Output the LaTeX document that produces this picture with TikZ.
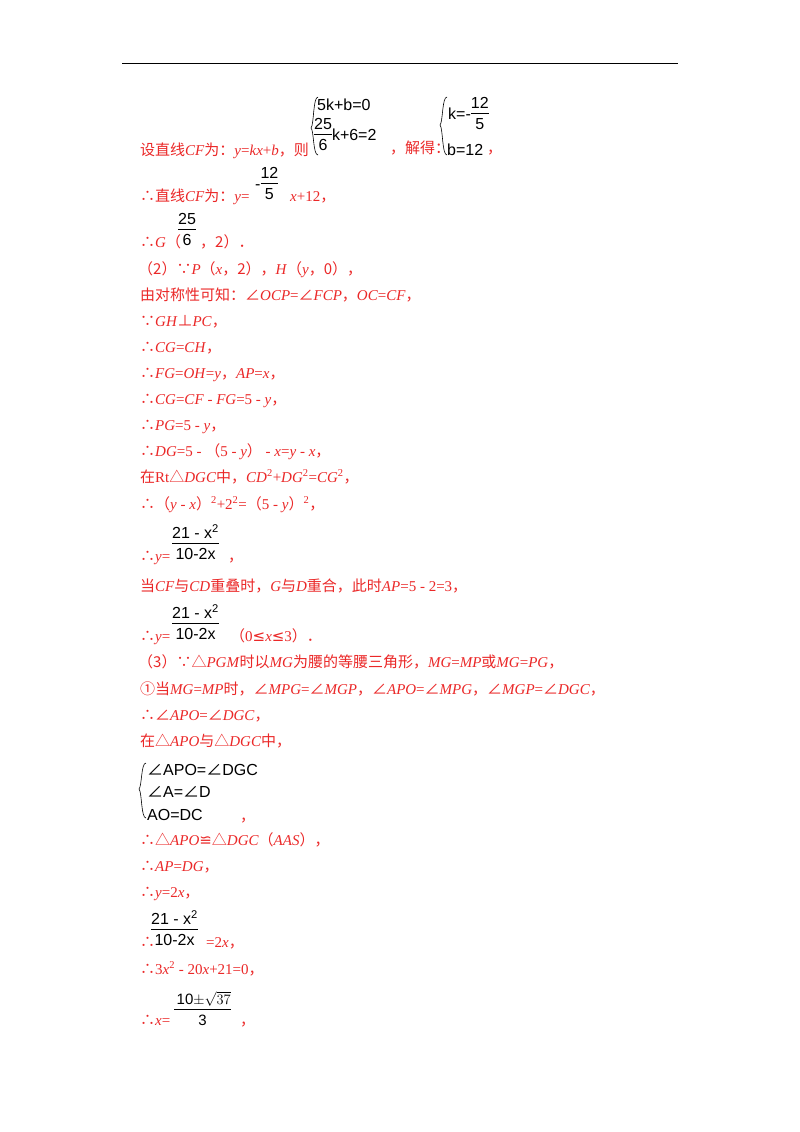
\documentclass[tikz,border=0pt]{standalone}
\usepackage{fontspec}
\usepackage{amsmath}
\setmainfont{Liberation Serif}
\newfontfamily\cjk{Noto Sans CJK SC}
\newfontfamily\dvs{DejaVu Sans}
\newfontfamily\arl{Liberation Sans}
\newcommand{\C}[1]{{\cjk #1}}
\newcommand{\V}[1]{\textit{#1}}
\definecolor{rd}{RGB}{235,40,40}
\tikzset{ln/.style={anchor=base west,inner sep=0pt,text=rd,font=\fontsize{15}{17}\selectfont},
 bk/.style={anchor=base west,inner sep=0pt,text=black,font=\arl\fontsize{16}{18}\selectfont},
 br/.style={draw=black,line width=0.6pt}}
\newcommand{\fr}[2]{\begin{tabular}{@{}c@{}}#1\\[-1pt]\hline\rule{0pt}{16pt}#2\end{tabular}}
\begin{document}
\begin{tikzpicture}[x=1pt,y=-1pt]
\useasboundingbox (0,0) rectangle (800,1132);
\fill[white] (0,0) rectangle (800,1132);
\draw[line width=0.8pt] (122,63) -- (678,63);
% line 1
\node[ln] (l1) at (140,155) {\C{设直线}\V{CF}\C{为：}\V{y}=\V{kx}+\V{b}\C{，则}};
\draw[br] (318,97) .. controls (313,97) and (314,125) .. (311,128) .. controls (314,131) and (313,155) .. (318,155);
\node[bk] (s1) at (317,110) {5k+b=0};
\node[bk,anchor=west] (s2) at (314,136) {\fr{25}{6}k+6=2};
\node[ln] (l1b) at (390,153) {\C{，解得：}};
\draw[br] (447,97) .. controls (442,97) and (443,122) .. (440,125) .. controls (443,128) and (442,155) .. (447,155);
\node[bk,anchor=west] (s3) at (448,115) {k=-\fr{12}{5}};
\node[bk] (s4) at (447,155) {b=12};
\node[ln] (l1c) at (487,153) {\C{，}};
% line 2
\node[ln] (l2) at (140,201) {\C{∴直线}\V{CF}\C{为：}\V{y}=};
\node[bk,anchor=west] (f2) at (255,185) {-\fr{12}{5}};
\node[ln] (l2b) at (290,201) {\V{x}+12\C{，}};
% line 3
\node[ln] (l3) at (140,247) {\C{∴}\V{G}\C{（}};
\node[bk,anchor=west] (f3) at (178,231) {\fr{25}{6}};
\node[ln] (l3b) at (200,247) {\C{，2）．}};
\node[ln] at (138,274) {\C{（2）∵}\V{P}\C{（}\V{x}\C{，2），}\V{H}\C{（}\V{y}\C{，0），}};
\node[ln] at (140,300) {\C{由对称性可知：∠}\V{OCP}=\C{∠}\V{FCP}\C{，}\V{OC}=\V{CF}\C{，}};
\node[ln] at (140,326) {\C{∵}\V{GH}\C{⊥}\V{PC}\C{，}};
\node[ln] at (140,352) {\C{∴}\V{CG}=\V{CH}\C{，}};
\node[ln] at (140,378) {\C{∴}\V{FG}=\V{OH}=\V{y}\C{，}\V{AP}=\V{x}\C{，}};
\node[ln] at (140,404) {\C{∴}\V{CG}=\V{CF} - \V{FG}=5 - \V{y}\C{，}};
\node[ln] at (140,430) {\C{∴}\V{PG}=5 - \V{y}\C{，}};
\node[ln] at (140,456) {\C{∴}\V{DG}=5 - \C{（}5 - \V{y}\C{）} - \V{x}=\V{y} - \V{x}\C{，}};
\node[ln] at (140,482) {\C{在}Rt\C{△}\V{DGC}\C{中，}\V{CD}\textsuperscript{2}+\V{DG}\textsuperscript{2}=\V{CG}\textsuperscript{2}\C{，}};
\node[ln] at (140,509) {\C{∴（}\V{y} - \V{x}\C{）}\textsuperscript{2}+2\textsuperscript{2}=\C{（}5 - \V{y}\C{）}\textsuperscript{2}\C{，}};
% y = frac
\node[ln] at (140,561) {\C{∴}\V{y}=};
\node[bk,anchor=west] at (172,545) {\fr{21 - x\textsuperscript{2}}{10-2x}};
\node[ln] at (228,561) {\C{，}};
\node[ln] at (140,591) {\C{当}\V{CF}\C{与}\V{CD}\C{重叠时，}\V{G}\C{与}\V{D}\C{重合，此时}\V{AP}=5 - 2=3\C{，}};
\node[ln] at (140,641) {\C{∴}\V{y}=};
\node[bk,anchor=west] at (172,625) {\fr{21 - x\textsuperscript{2}}{10-2x}};
\node[ln] at (230,641) {\C{（}0{\dvs≤}\V{x}{\dvs≤}3\C{）．}};
\node[ln] at (138,667) {\C{（3）∵△}\V{PGM}\C{时以}\V{MG}\C{为腰的等腰三角形，}\V{MG}=\V{MP}\C{或}\V{MG}=\V{PG}\C{，}};
\node[ln] at (140,694) {\C{①当}\V{MG}=\V{MP}\C{时，∠}\V{MPG}=\C{∠}\V{MGP}\C{，∠}\V{APO}=\C{∠}\V{MPG}\C{，∠}\V{MGP}=\C{∠}\V{DGC}\C{，}};
\node[ln] at (140,720) {\C{∴∠}\V{APO}=\C{∠}\V{DGC}\C{，}};
\node[ln] at (140,746) {\C{在△}\V{APO}\C{与△}\V{DGC}\C{中，}};
\draw[br] (146,763) .. controls (141,763) and (142,786) .. (139,789) .. controls (142,792) and (141,818) .. (146,818);
\node[bk] at (147,775) {\C{∠}APO=\C{∠}DGC};
\node[bk] at (147,797) {\C{∠}A=\C{∠}D};
\node[bk] at (147,820) {AO=DC};
\node[ln] at (240,821) {\C{，}};
\node[ln] at (140,845) {\C{∴△}\V{APO}{\dvs≌}\C{△}\V{DGC}\C{（}\V{AAS}\C{），}};
\node[ln] at (140,871) {\C{∴}\V{AP}=\V{DG}\C{，}};
\node[ln] at (140,897) {\C{∴}\V{y}=2\V{x}\C{，}};
\node[ln] at (140,947) {\C{∴}};
\node[bk,anchor=west] at (151,931) {\fr{21 - x\textsuperscript{2}}{10-2x}};
\node[ln] at (206,947) {=2\V{x}\C{，}};
\node[ln] at (140,974) {\C{∴}3\V{x}\textsuperscript{2} - 20\V{x}+21=0\C{，}};
\node[ln] at (140,1025) {\C{∴}\V{x}=};
\node[bk,anchor=west,font=\arl\fontsize{15}{17}\selectfont] at (174,1011) {\fr{\,10$\pm\sqrt{37}$}{3}};
\node[ln] at (240,1025) {\C{，}};
\end{tikzpicture}
\end{document}
